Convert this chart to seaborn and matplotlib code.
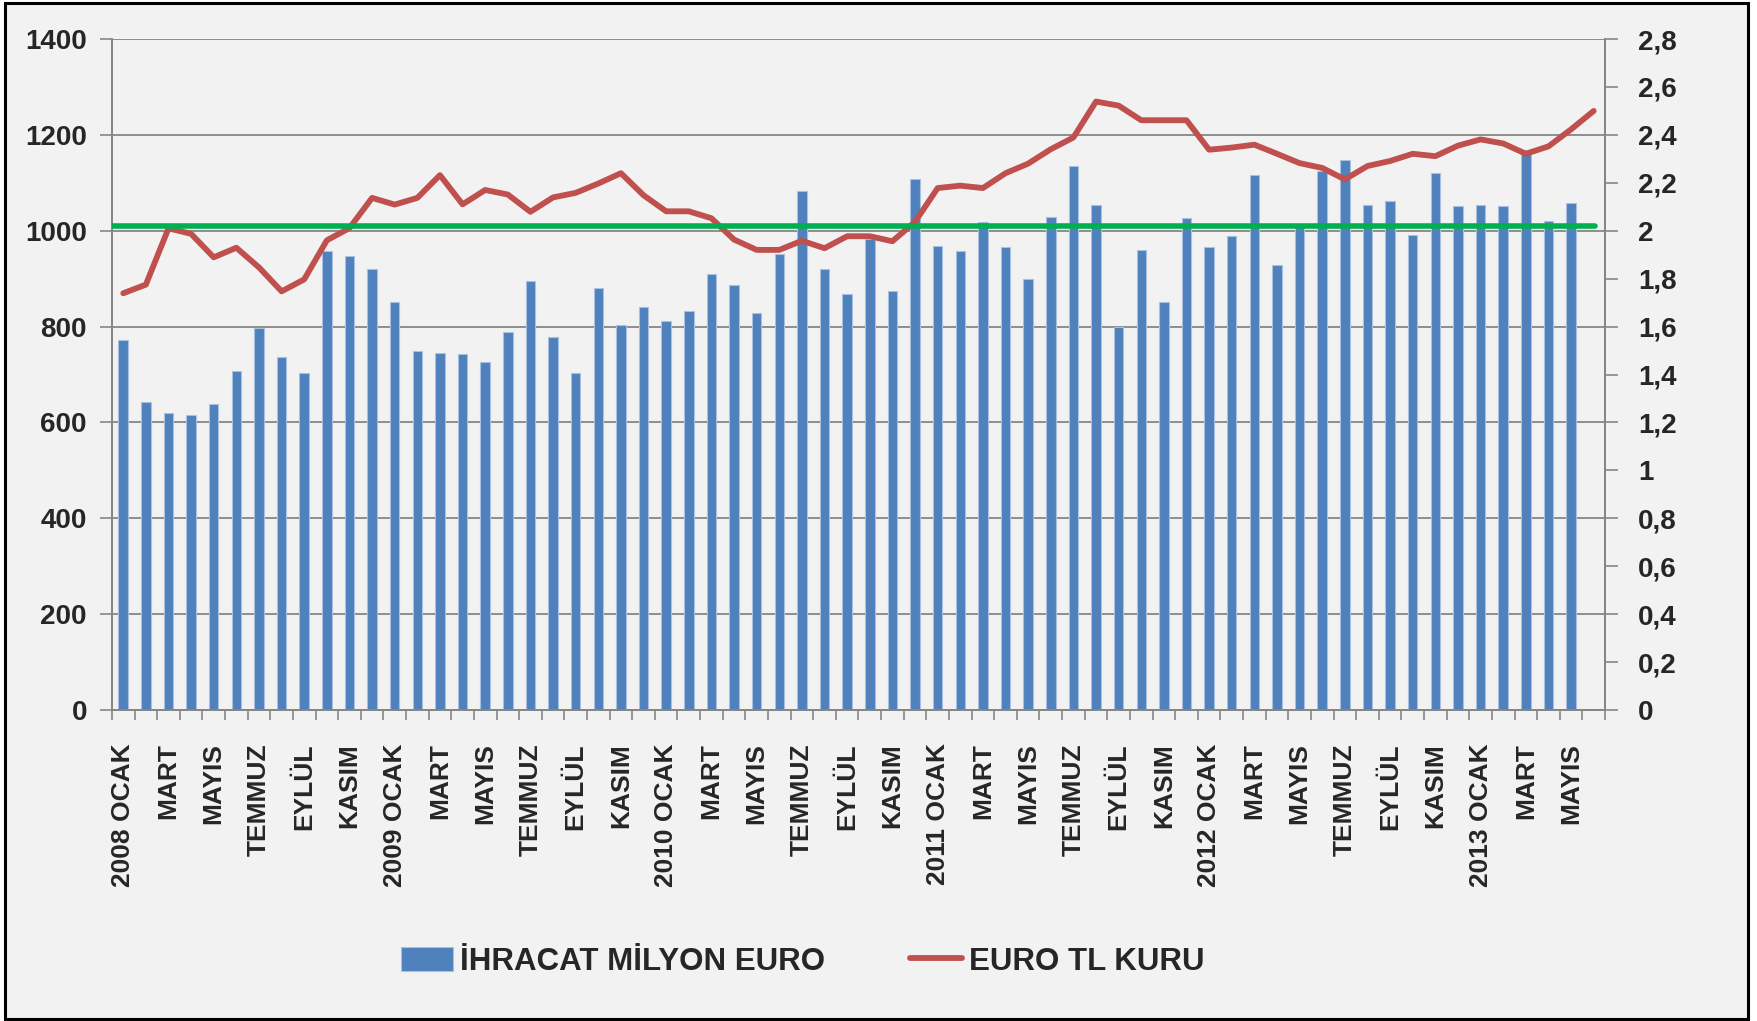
import numpy as np
import pandas as pd
import matplotlib
matplotlib.use("Agg")
import matplotlib.pyplot as plt
import seaborn as sns
from matplotlib.patches import Rectangle
from matplotlib.ticker import FixedLocator, FuncFormatter

## Veriler

aylar_kisa = ["OCAK", "ŞUBAT", "MART", "NİSAN", "MAYIS", "HAZİRAN",
              "TEMMUZ", "AĞUSTOS", "EYLÜL", "EKİM", "KASIM", "ARALIK"]
yillar = [2008, 2009, 2010, 2011, 2012, 2013]

ihracat = [771, 642, 620, 615, 638, 707, 798, 736, 703, 958, 947, 920,
           852, 748, 745, 743, 727, 788, 895, 778, 703, 880, 803, 840,
           811, 833, 909, 887, 829, 951, 1083, 920, 867, 983, 875, 1108,
           969, 957, 1019, 967, 899, 1029, 1135, 1054, 799, 960, 852, 1026,
           967, 990, 1116, 929, 1008, 1125, 1148, 1054, 1063, 991, 1120, 1052,
           1054, 1052, 1169, 1020, 1057]

euro_tl = [1.739, 1.775, 2.010, 1.987, 1.889, 1.929, 1.847, 1.747, 1.797, 1.960, 2.011, 2.137,
           2.109, 2.137, 2.232, 2.110, 2.170, 2.151, 2.079, 2.139, 2.158, 2.197, 2.240, 2.148,
           2.081, 2.081, 2.052, 1.963, 1.920, 1.920, 1.958, 1.927, 1.977, 1.977, 1.956, 2.037,
           2.178, 2.188, 2.178, 2.240, 2.280, 2.340, 2.389, 2.539, 2.522, 2.461, 2.461, 2.461,
           2.338, 2.347, 2.359, 2.321, 2.282, 2.262, 2.214, 2.270, 2.291, 2.321, 2.311, 2.355,
           2.381, 2.364, 2.321, 2.352, 2.423, 2.500]

esik = 2.02  # yesil yatay cizgi (sag eksen)

sol_ticks = [0, 200, 400, 600, 800, 1000, 1200, 1400]
sag_ticks = [0, 0.2, 0.4, 0.6, 0.8, 1, 1.2, 1.4, 1.6, 1.8, 2, 2.2, 2.4, 2.6, 2.8]

# donemler: Ocak 2008 - Haziran 2013 (anahtar benzersiz, etiket Excel gibi)
anahtarlar = []
etiketler = []
for y in yillar:
    for i, a in enumerate(aylar_kisa):
        anahtarlar.append(f"{y}-{i + 1:02d}")
        etiketler.append(f"{y} {a}" if i == 0 else a)
anahtarlar = anahtarlar[:len(euro_tl)]
etiketler = [e if i % 2 == 0 else "" for i, e in enumerate(etiketler[:len(euro_tl)])]

df_bar = pd.DataFrame({"donem": anahtarlar[:len(ihracat)], "ihracat": ihracat})
df_kur = pd.DataFrame({"x": np.arange(len(euro_tl)), "kur": euro_tl})

## Cizim

sns.set_theme(style="white")
plt.rcParams["font.family"] = ["Liberation Sans Narrow", "Liberation Sans", "DejaVu Sans"]
plt.rcParams["font.weight"] = "bold"

bg = "#F2F2F2"
gri = "#868686"

fig = plt.figure(figsize=(17.57, 10.21), dpi=100, facecolor="white")
fig.patches.append(Rectangle((0.003, 0.002), 0.992, 0.995, transform=fig.transFigure,
                             facecolor=bg, edgecolor="black", linewidth=2.2, zorder=-10))

ax = fig.add_axes([0.0637, 0.3046, 0.8498, 0.6572])
ax.set_facecolor(bg)

sns.barplot(data=df_bar, x="donem", y="ihracat", order=anahtarlar, color="#4F81BD",
            saturation=1, width=0.42, edgecolor="#A9C1E0", linewidth=0.8, errorbar=None,
            label="İHRACAT MİLYON EURO", ax=ax, zorder=2)

ax2 = ax.twinx()
sns.lineplot(data=df_kur, x="x", y="kur", color="#C0504D", linewidth=4.2,
             label="EURO TL KURU", ax=ax2, zorder=3)
ax2.axhline(esik, xmin=0, xmax=0.993, color="#00B050", linewidth=4.0, zorder=4)

ax.set_xlim(-0.5, len(anahtarlar) - 0.5)
ax.set_ylim(0, 1400)
ax2.set_ylim(0, 2.8)

ax.set_yticks(sol_ticks)
ax2.set_yticks(sag_ticks)
ax2.yaxis.set_major_formatter(FuncFormatter(lambda v, p: f"{v:g}".replace(".", ",")))

ax.set_xticks(np.arange(len(anahtarlar)))
ax.set_xticklabels(etiketler, rotation=90, fontsize=19, fontweight="bold", va="top", ha="center")
ax.xaxis.set_minor_locator(FixedLocator(np.arange(-0.5, len(anahtarlar), 1)))
ax.tick_params(axis="x", which="major", length=0, pad=24)
ax.tick_params(axis="x", which="minor", length=7, width=1.2, color=gri, bottom=True)
ax.tick_params(axis="y", which="major", length=9, width=1.2, color=gri, left=True,
               labelsize=20, pad=9)
ax2.tick_params(axis="y", which="major", length=9, width=1.2, color=gri, right=True,
                labelsize=20, pad=15)
for t in ax.get_yticklabels() + ax2.get_yticklabels():
    t.set_fontweight("bold")

ax.set_xlabel("")
ax.set_ylabel("")
ax2.set_xlabel("")
ax2.set_ylabel("")

ax.yaxis.grid(True, color=gri, linewidth=1.3, zorder=0)
ax.set_axisbelow(True)
for a in (ax, ax2):
    a.spines["top"].set_visible(False)
    for s in ("left", "right", "bottom"):
        a.spines[s].set_color(gri)
        a.spines[s].set_linewidth(1.3)

h1, l1 = ax.get_legend_handles_labels()
h2, l2 = ax2.get_legend_handles_labels()
if ax.get_legend():
    ax.get_legend().remove()
if ax2.get_legend():
    ax2.get_legend().remove()
fig.legend(h1 + h2, l1 + l2, loc="center", bbox_to_anchor=(0.457, 0.058), ncol=2,
           frameon=False, prop={"weight": "bold", "size": 22.5},
           handlelength=1.65, handleheight=0.8, columnspacing=2.7, handletextpad=0.25)

fig.savefig("out.png", dpi=100, facecolor="white")
